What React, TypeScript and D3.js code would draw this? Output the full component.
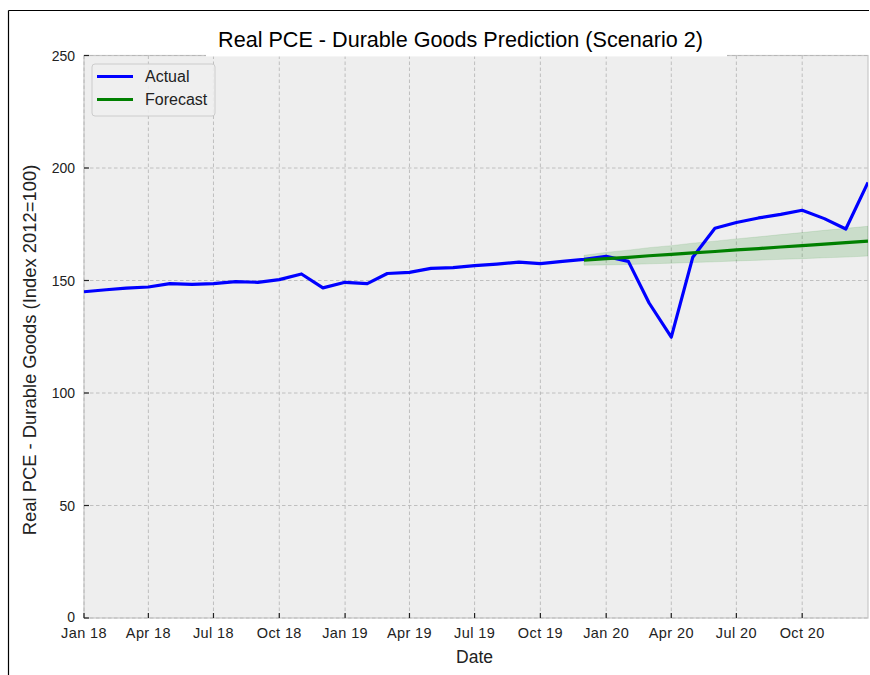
import React from "react";
import * as d3 from "d3";

const actualDates: string[] = [
  "2018-01","2018-02","2018-03","2018-04","2018-05","2018-06","2018-07","2018-08","2018-09","2018-10","2018-11","2018-12",
  "2019-01","2019-02","2019-03","2019-04","2019-05","2019-06","2019-07","2019-08","2019-09","2019-10","2019-11","2019-12",
  "2020-01","2020-02","2020-03","2020-04","2020-05","2020-06","2020-07","2020-08","2020-09","2020-10","2020-11","2020-12",
  "2021-01",
];
const actualValues: number[] = [
  145.0, 145.9, 146.6, 147.1, 148.6, 148.3, 148.6, 149.5, 149.2, 150.4, 152.9, 146.7,
  149.2, 148.6, 153.1, 153.6, 155.4, 155.7, 156.6, 157.3, 158.2, 157.5, 158.5, 159.4,
  160.7, 158.5, 140.0, 124.8, 160.3, 173.2, 175.8, 177.8, 179.4, 181.2, 177.5, 172.9,
  193.6,
];
const forecastDates: string[] = [
  "2019-12","2020-01","2020-02","2020-03","2020-04","2020-05","2020-06","2020-07","2020-08","2020-09","2020-10","2020-11","2020-12","2021-01",
];
const forecastValues: number[] = [159.0, 159.7, 160.3, 161.0, 161.6, 162.3, 162.9, 163.6, 164.2, 164.9, 165.5, 166.2, 166.8, 167.5];
const forecastLower: number[] = [156.8, 156.9, 157.1, 157.4, 157.7, 158.0, 158.3, 158.7, 159.0, 159.4, 159.7, 160.1, 160.4, 160.9];
const forecastUpper: number[] = [161.2, 162.5, 163.5, 164.6, 165.5, 166.6, 167.5, 168.5, 169.4, 170.4, 171.3, 172.3, 173.2, 174.1];
const yTicks: number[] = [0, 50, 100, 150, 200, 250];
const xTickLabels: string[] = ["Jan 18","Apr 18","Jul 18","Oct 18","Jan 19","Apr 19","Jul 19","Oct 19","Jan 20","Apr 20","Jul 20","Oct 20"];
const xTickDates: string[] = ["2018-01","2018-04","2018-07","2018-10","2019-01","2019-04","2019-07","2019-10","2020-01","2020-04","2020-07","2020-10"];

const parse = (s: string) => {
  const [y, m] = s.split("-").map(Number);
  return new Date(y, m - 1, 1);
};

const W = 870, H = 675;
const L = 84, R = 868, T = 55.5, B = 618;
const FONT = "'Liberation Sans', Arial, Helvetica, sans-serif";

export default function App() {
  const x = d3.scaleTime().domain([parse("2018-01"), parse("2021-01")]).range([L, R]);
  const y = d3.scaleLinear().domain([0, 250]).range([B, T]);

  const actual = actualDates.map((d, i) => ({ d: parse(d), v: actualValues[i] }));
  const fc = forecastDates.map((d, i) => ({ d: parse(d), v: forecastValues[i], lo: forecastLower[i], hi: forecastUpper[i] }));

  const line = d3.line<{ d: Date; v: number }>().x(p => x(p.d)).y(p => y(p.v));
  const area = d3.area<{ d: Date; lo: number; hi: number }>().x(p => x(p.d)).y0(p => y(p.lo)).y1(p => y(p.hi));

  return (
    <svg width={W} height={H} style={{ position: "absolute", left: 0, top: 0, background: "#fff" }}>
      <defs>
        <clipPath id="plot"><rect x={L} y={T} width={R - L} height={B - T} /></clipPath>
      </defs>
      <rect x={0} y={0} width={W} height={H} fill="#fff" />
      {/* outer frame lines */}
      <line x1={8.5} y1={10.5} x2={869} y2={10.5} stroke="#000" strokeWidth={1.2} />
      <line x1={8.5} y1={10.5} x2={8.5} y2={675} stroke="#000" strokeWidth={1.2} />
      {/* plot area */}
      <rect x={L} y={T} width={R - L} height={B - T} fill="#eeeeee" stroke="#c8c8c8" strokeWidth={1.2} />
      {/* grid */}
      {xTickDates.map((d, i) => (
        <line key={"gx" + i} x1={x(parse(d))} x2={x(parse(d))} y1={T} y2={B} stroke="#b2b2b2" strokeWidth={0.8} strokeDasharray="3.5,2.5" />
      ))}
      {yTicks.map((t, i) => (
        <line key={"gy" + i} x1={L} x2={R} y1={y(t)} y2={y(t)} stroke="#b2b2b2" strokeWidth={0.8} strokeDasharray="3.5,2.5" />
      ))}
      {/* ticks */}
      {xTickDates.map((d, i) => (
        <line key={"tx" + i} x1={x(parse(d))} x2={x(parse(d))} y1={B} y2={B - 5} stroke="#222" strokeWidth={1.2} />
      ))}
      {yTicks.map((t, i) => (
        <line key={"ty" + i} x1={L} x2={L + 5} y1={y(t)} y2={y(t)} stroke="#222" strokeWidth={1.2} />
      ))}
      <g clipPath="url(#plot)">
        <path d={area(fc) || ""} fill="#008000" fillOpacity={0.15} stroke="#008000" strokeOpacity={0.1} />
        <path d={line(actual) || ""} fill="none" stroke="#0000ff" strokeWidth={3.2} strokeLinejoin="round" />
        <path d={line(fc) || ""} fill="none" stroke="#008000" strokeWidth={3.2} />
      </g>
      {/* tick labels */}
      {xTickDates.map((d, i) => (
        <text key={"lx" + i} x={x(parse(d))} y={637.5} textAnchor="middle" fontFamily={FONT} fontSize={14.5} letterSpacing={0.4} fill="#222">{xTickLabels[i]}</text>
      ))}
      {yTicks.map((t, i) => (
        <text key={"ly" + i} x={75} y={y(t) + (t === 0 ? 4 : 5)} textAnchor="end" fontFamily={FONT} fontSize={14} fill="#222">{t}</text>
      ))}
      {/* title */}
      <rect x={206} y={24} width={521} height={32.5} fill="#fff" />
      <text x={460.5} y={47} textAnchor="middle" fontFamily={FONT} fontSize={21.6} fill="#000">Real PCE - Durable Goods Prediction (Scenario 2)</text>
      {/* axis labels */}
      <text x={474.5} y={663} textAnchor="middle" fontFamily={FONT} fontSize={17.5} fill="#222">Date</text>
      <text transform={`translate(36,350) rotate(-90)`} textAnchor="middle" fontFamily={FONT} fontSize={18.4} fill="#222">Real PCE - Durable Goods (Index 2012=100)</text>
      {/* legend */}
      <rect x={92} y={64} width={123} height={52} rx={3} fill="#eeeeee" fillOpacity={0.9} stroke="#cccccc" strokeWidth={1} />
      <line x1={97} x2={133} y1={76.5} y2={76.5} stroke="#0000ff" strokeWidth={3.2} />
      <text x={145} y={81.5} fontFamily={FONT} fontSize={16} fill="#222">Actual</text>
      <line x1={97} x2={133} y1={99.5} y2={99.5} stroke="#008000" strokeWidth={3.2} />
      <text x={145} y={104.5} fontFamily={FONT} fontSize={16} fill="#222">Forecast</text>
    </svg>
  );
}
